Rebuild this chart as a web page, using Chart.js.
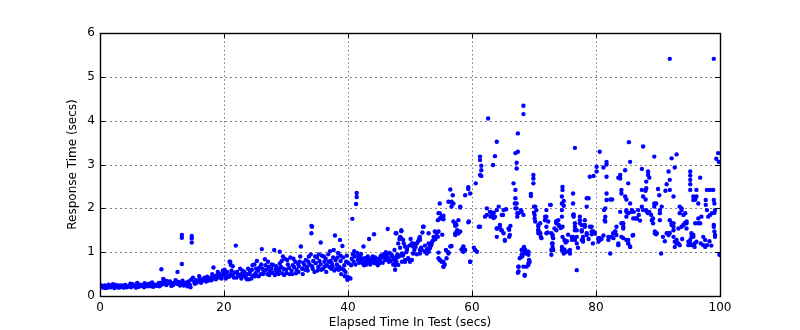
<!DOCTYPE html>
<html>
<head>
<meta charset="utf-8">
<script src="https://cdn.jsdelivr.net/npm/chart.js@4/dist/chart.umd.min.js"></script>
<style>
  html, body { margin: 0; padding: 0; background: #fff; overflow: hidden; }
  #c { display: block; }
</style>
</head>
<body>
<canvas id="c" width="800" height="330" style="width:800px;height:330px"></canvas>
<script>
// ---- data (elapsed seconds, response seconds) ----
const pts0to10 = [
  [0.2,0.22],[0.5,0.19],[0.8,0.24],[0.9,0.18],[1.1,0.21],[1.4,0.26],[1.7,0.2],[2.0,0.23],[2.1,0.27],[2.3,0.18],
  [2.6,0.21],[2.9,0.24],[3.2,0.2],[3.3,0.24],[3.5,0.22],[3.8,0.19],[4.1,0.25],[4.4,0.21],[4.7,0.23],[4.9,0.28],
  [5.0,0.2],[5.3,0.27],[5.6,0.22],[5.9,0.24],[6.0,0.3],[6.2,0.21],[6.5,0.26],[6.8,0.23],[7.1,0.2],[7.2,0.29],
  [7.4,0.25],[7.7,0.22],[8.0,0.28],[8.3,0.24],[8.4,0.31],[8.6,0.21],[8.9,0.26],[9.2,0.23],[9.5,0.3],[9.6,0.22],
  [9.8,0.25],[9.9,0.61]
];
const pts10to20 = [
  [10.1,0.27],[10.2,0.39],[10.4,0.31],[10.6,0.35],[10.7,0.25],[11.0,0.29],[11.3,0.33],[11.5,0.23],[11.6,0.27],[11.9,0.3],
  [12.2,0.36],[12.4,0.28],[12.5,0.55],[12.7,0.32],[12.9,0.24],[13.0,0.29],[13.2,1.39],[13.2,1.33],[13.2,0.73],[13.3,0.35],
  [13.6,0.3],[13.9,0.27],[14.0,0.31],[14.1,0.22],[14.3,0.33],[14.5,0.25],[14.7,0.37],[14.8,1.37],[14.8,1.32],[14.8,1.22],
  [15.0,0.42],[15.2,0.32],[15.3,0.28],[15.5,0.36],[15.8,0.34],[16.0,0.45],[16.1,0.38],[16.4,0.35],[16.7,0.4],[17.0,0.37],
  [17.1,0.33],[17.3,0.44],[17.6,0.39],[17.9,0.42],[18.0,0.36],[18.2,0.46],[18.3,0.65],[18.5,0.41],[18.8,0.47],[19.0,0.55],
  [19.1,0.44],[19.4,0.5],[19.6,0.4],[19.7,0.46],[20.0,0.52]
];
const pts0to17extra = [
  [0.1,0.25],[0.6,0.23],[1.2,0.19],[1.9,0.24],[2.5,0.25],[3.0,0.19],[3.7,0.24],[4.3,0.2],[5.2,0.24],[5.8,0.19],
  [6.4,0.22],[7.0,0.24],[7.6,0.27],[8.2,0.22],[8.8,0.24],[9.4,0.27],[10.0,0.31],[10.9,0.33],[11.8,0.25],[12.1,0.3],
  [12.8,0.27],[13.5,0.24],[14.2,0.28],[14.6,0.2],[15.6,0.3],[16.6,0.36]
];
const pts20to30 = [
  [20.2,0.48],[20.3,0.4],[20.5,0.55],[20.8,0.44],[21.0,0.78],[21.1,0.5],[21.2,0.58],[21.4,0.46],[21.4,0.68],[21.7,0.53],
  [21.9,1.15],[22.0,0.42],[22.3,0.49],[22.6,0.45],[22.6,0.62],[22.9,0.51],[23.0,0.58],[23.2,0.47],[23.5,0.43],[23.8,0.5],
  [23.9,0.62],[24.0,0.38],[24.2,0.56],[24.4,0.4],[24.5,0.6],[24.7,0.47],[24.9,0.72],[25.0,0.45],[25.1,0.52],[25.3,0.8],
  [25.5,0.58],[25.7,0.65],[25.9,0.5],[26.0,0.72],[26.1,1.07],[26.2,0.62],[26.4,0.55],[26.6,0.84],[26.8,0.6],[27.0,0.5],
  [27.1,0.78],[27.2,0.66],[27.4,0.57],[27.6,0.62],[27.8,0.53],[28.0,0.7],[28.1,1.05],[28.2,0.48],[28.3,0.6],[28.5,0.55],
  [28.7,0.63],[28.9,0.58],[29.0,0.74],[29.0,1.01],[29.2,0.66],[29.4,0.52],[29.5,0.9],[29.6,0.62],[29.8,0.85]
];
const pts30to40 = [
  [30.0,0.6],[30.1,0.52],[30.3,0.72],[30.5,0.64],[30.7,0.88],[30.9,0.58],[31.0,0.5],[31.1,0.7],[31.3,0.66],[31.5,0.78],
  [31.7,0.6],[31.9,0.74],[32.0,0.55],[32.1,0.68],[32.3,0.9],[32.4,1.13],[32.6,0.62],[32.8,0.76],[33.0,0.7],[33.2,0.82],
  [33.4,0.65],[33.5,0.58],[33.6,0.78],[33.8,0.72],[34.0,0.95],[34.1,1.6],[34.2,1.58],[34.1,1.43],[34.2,0.68],[34.4,0.8],
  [34.6,0.55],[34.8,0.75],[35.0,0.88],[35.1,0.58],[35.2,0.66],[35.4,0.8],[35.6,0.72],[35.6,1.22],[35.8,0.92],[36.0,0.62],
  [36.2,0.78],[36.4,0.85],[36.5,0.55],[36.6,0.7],[36.8,0.95],[37.0,0.66],[37.2,0.8],[37.3,0.62],[37.4,0.75],[37.6,0.88],
  [37.8,0.58],[37.9,1.38],[38.0,0.82],[38.2,0.72],[38.4,0.98],[38.5,0.6],[38.6,0.66],[38.7,1.28],[38.8,0.8],[38.9,0.5],
  [39.0,0.62],[39.1,1.14],[39.2,0.88],[39.4,0.7],[39.5,0.45],[39.6,0.55],[39.8,0.92],[39.9,0.44],[39.9,0.37],[40.0,0.4]
];
const pts40to48 = [
  [40.2,0.42],[40.4,0.4],[40.6,0.85],[40.7,1.76],[40.8,0.95],[40.9,0.78],[41.0,1.02],[41.1,0.9],[41.3,2.1],[41.4,2.35],
  [41.4,2.26],[41.5,0.98],[41.6,0.82],[41.8,0.76],[42.0,0.88],[42.1,0.96],[42.2,0.8],[42.4,0.74],[42.5,1.13],[42.7,0.86],
  [42.9,0.79],[43.0,0.72],[43.1,0.83],[43.3,0.76],[43.4,1.3],[43.5,0.8],[43.7,0.85],[43.9,0.78],[44.0,0.9],[44.1,0.82],
  [44.2,1.41],[44.3,0.75],[44.5,0.8],[44.7,0.84],[44.9,0.78],[45.0,0.74],[45.1,0.86],[45.3,0.92],[45.5,0.88],[45.7,0.95],
  [45.9,0.9],[46.0,0.82],[46.1,1.0],[46.3,0.94],[46.4,1.53],[46.5,0.86],[46.7,0.98],[46.9,0.8],[47.1,0.9],[47.3,0.72],
  [47.5,1.05],[47.6,0.8],[47.6,0.7],[47.6,0.6],[47.7,1.43],[47.8,0.78],[48.0,0.95]
];
const pts16to48extra = [
  [16.3,0.3],[16.9,0.42],[17.5,0.35],[18.1,0.5],[18.7,0.38],[19.3,0.42],[19.8,0.58],[20.1,0.6],[20.6,0.45],[20.9,0.78],
  [21.1,0.71],[21.6,0.42],[22.1,0.55],[22.8,0.4],[23.3,0.55],[23.7,0.38],[24.1,0.5],[24.6,0.7],[25.2,0.62],[25.6,0.45],
  [26.3,0.5],[26.7,0.7],[27.3,0.48],[27.7,0.72],[28.4,0.68],[28.8,0.5],[29.3,0.8],[29.7,0.48],[30.2,0.82],[30.6,0.5],
  [31.2,0.85],[31.6,0.52],[32.2,0.78],[32.7,0.5],[33.1,0.6],[33.7,0.9],[34.3,0.62],[34.7,0.9],[35.3,0.95],[35.7,0.6],
  [36.1,0.9],[36.3,0.68],[36.9,0.78],[37.1,1.02],[37.5,0.68],[37.7,1.05],[38.1,0.62],[38.3,0.88],[38.8,0.92],[39.3,0.6],
  [39.7,0.78],[40.1,0.75],[40.5,0.7],[41.2,0.72],[41.7,0.9],[42.3,0.85],[42.6,0.7],[43.2,0.9],[43.6,0.72],[44.4,0.88],
  [44.8,0.7],[45.2,0.8],[45.6,0.76],[46.2,0.84],[46.6,0.78],[47.0,0.95],[47.4,0.85],[47.9,0.88]
];
const pts48to56 = [
  [48.2,0.9],[48.3,1.3],[48.4,1.1],[48.6,1.5],[48.6,1.32],[48.6,1.48],[48.7,0.97],[48.8,0.92],[49.0,1.2],[49.2,0.78],
  [49.4,1.0],[49.5,1.09],[49.7,0.85],[49.9,1.15],[50.1,1.3],[50.3,0.82],[50.5,1.2],[50.5,0.97],[50.7,1.05],[50.9,1.12],
  [51.1,0.95],[51.3,1.25],[51.5,1.32],[51.6,1.05],[51.6,0.97],[51.8,1.1],[52.0,1.45],[52.2,1.58],[52.4,1.15],[52.7,1.05],
  [52.7,0.97],[52.9,1.08],[53.0,1.2],[53.2,1.12],[53.4,1.15],[53.6,1.25],[53.8,1.35],[54.0,1.47],[54.1,1.3],[54.3,1.45],
  [54.5,1.35],[54.6,0.99],[54.8,2.11],[54.8,1.89],[54.8,0.82],[55.0,1.77],[55.2,1.4],[55.4,1.83],[55.4,1.75],[55.4,0.78],
  [55.4,0.67],[55.6,0.72],[55.8,1.05]
];
const pts56to62 = [
  [56.2,2.15],[56.2,1.0],[56.5,2.43],[56.7,2.13],[56.7,2.04],[56.7,1.14],[56.9,2.3],[57.3,1.65],[57.3,1.6],[57.3,1.39],
  [57.6,1.5],[57.8,1.73],[57.8,1.43],[58.1,2.02],[58.3,1.06],[58.6,1.12],[58.6,1.01],[58.9,2.3],[59.4,2.48],[59.4,2.44],
  [59.4,1.68],[59.7,2.34],[59.7,0.78],[60.3,1.1],[60.5,1.05],[60.6,2.57],[61.1,1.58],[61.3,3.18],[61.3,3.1],[61.3,2.76],
  [61.5,2.97],[61.5,2.87],[61.5,2.74]
];
const pts62to69 = [
  [62.4,2.0],[62.6,4.05],[63.0,1.92],[63.0,1.81],[63.2,1.86],[63.4,2.99],[63.5,1.9],[63.5,1.78],[63.7,3.19],[64.0,3.52],
  [64.0,1.96],[64.0,1.54],[64.0,1.35],[64.5,1.58],[64.7,1.5],[65.0,1.85],[65.3,1.26],[65.5,1.98],[66.0,1.51],[66.0,1.35],
  [66.2,1.6],[66.7,2.57],[67.0,2.42],[67.0,2.23],[67.0,2.0],[67.0,3.26],[67.2,2.11],[67.2,3.04],[67.2,2.91],[67.3,1.89],
  [67.3,1.81],[67.4,3.29],[67.4,3.71],[67.4,0.53],[67.5,0.67],[68.1,0.9],[68.3,4.34],[68.3,4.15],[68.4,1.12],[68.4,0.97],
  [68.5,0.46],[68.6,1.05],[68.8,0.67],[69.1,1.01],[69.1,0.75],[69.2,0.82]
];
const pts69to74 = [
  [69.5,2.33],[69.5,2.28],[69.9,2.76],[69.9,2.68],[69.9,2.57],[70.0,2.04],[70.0,1.9],[70.1,1.85],[70.1,1.77],[70.2,1.7],
  [70.7,1.58],[70.7,1.5],[70.7,1.43],[71.0,1.66],[71.0,1.43],[71.1,1.35],[71.8,1.81],[71.8,1.73],[72.0,1.96],[72.0,1.58],
  [72.0,1.43],[72.2,1.45],[72.7,2.08],[72.8,1.05],[72.8,0.94],[73.0,1.4],[73.0,1.35],[73.0,1.2],[73.0,1.12],[73.6,1.7],
  [73.6,1.66],[73.6,1.5],[73.9,1.73],[74.0,1.6]
];
const pts48to74extra = [
  [47.8,1.43],[48.1,1.2],[48.4,1.35],[47.8,0.9],[48.7,0.78],[48.1,0.71],[48.9,1.28],[49.2,1.13],[49.5,1.05],[49.7,0.86],
  [50.0,0.78],[50.3,1.2],[50.5,1.13],[48.9,0.94],[49.2,0.82],[51.1,1.2],[51.6,1.35],[51.6,1.28],[51.9,1.05],[52.1,1.58],
  [52.4,1.01],[52.7,1.05],[53.0,1.43],[53.2,1.09],[53.5,1.2],[53.8,1.28],[54.0,1.35],[54.3,1.43],[54.6,1.47],[53.0,1.01],
  [54.8,0.82],[55.1,0.78],[55.4,0.67],[55.9,0.86],[56.2,0.97],[54.6,0.86],[56.7,2.15],[57.0,2.11],[58.1,2.04],[54.6,1.89],
  [54.8,1.77],[55.1,1.81],[54.5,1.73],[57.0,1.7],[57.3,1.66],[57.5,1.62],[57.8,1.43],[58.1,1.47],[57.3,1.43],[59.5,1.7],
  [56.5,1.13],[58.6,1.13],[58.9,1.05],[59.7,0.78],[60.5,1.05],[60.8,1.01],[61.3,1.58],[62.1,1.81],[62.4,1.85],[62.9,1.92],
  [63.2,1.85],[63.4,1.89],[63.7,1.81],[64.0,1.54],[64.3,2.04],[64.8,1.85],[65.1,1.96],[64.5,1.62],[64.8,1.5],[65.1,1.43],
  [65.3,1.28],[65.9,1.54],[66.1,1.39],[66.9,2.11],[67.2,2.0],[67.5,1.89],[68.0,1.92],[68.3,1.85],[67.9,1.96],[68.0,1.05],
  [68.3,1.09],[68.5,1.01],[68.0,0.94],[67.7,0.86],[68.8,0.97],[69.1,0.94],[69.3,0.78],[69.1,0.71],[68.3,0.67],[68.5,0.48],
  [67.5,0.67],[67.5,0.56],[70.2,2.04],[70.4,1.96],[70.7,1.5],[71.0,1.43],[71.2,1.32],[70.7,1.62],[71.8,1.73],[72.0,1.81],
  [72.3,1.7],[72.6,2.08],[72.8,1.43],[73.1,1.32],[72.9,1.2],[73.1,1.05],[73.3,1.54]
];
const pts74to87 = [
  [74.5,2.27],[74.5,2.11],[74.6,2.49],[74.6,2.42],[74.8,2.17],[74.8,2.06],[74.5,1.96],[74.5,1.81],[74.6,1.58],[74.6,1.35],
  [74.5,1.12],[74.5,1.05],[74.8,0.97],[75.1,1.0],[75.3,1.25],[75.5,1.4],[75.8,1.05],[75.8,0.97],[76.1,1.35],[76.1,1.28],
  [76.3,2.34],[76.3,2.11],[76.4,1.86],[76.4,1.81],[76.6,1.66],[76.6,1.5],[76.6,3.38],[76.9,1.35],[76.9,1.2],[76.9,0.59],
  [77.1,1.1],[77.4,1.81],[77.4,1.73],[77.7,1.62],[77.7,1.5],[77.7,1.28],[77.9,1.35],[77.9,1.24],[78.2,1.58],[78.2,1.73],
  [78.5,2.23],[78.5,2.04],[78.5,1.39],[78.8,2.23],[78.8,1.3],[79.0,1.58],[79.0,2.72],[79.3,1.47],[79.3,1.41],[79.5,1.2],
  [79.6,2.74],[79.8,1.43],[80.1,2.95],[80.1,2.84],[80.4,1.32],[80.4,1.24],[80.6,1.32],[80.6,3.29],[80.9,1.3],[81.2,1.38],
  [81.2,2.93],[81.5,1.81],[81.5,1.7],[81.5,2.0],[81.7,2.34],[81.7,2.19],[81.7,3.06],[81.7,3.0],[81.7,2.72],[82.0,1.35],
  [82.0,1.28],[82.3,0.97],[82.3,2.2],[82.6,2.2],[82.8,1.43],[82.8,1.32],[83.1,1.47],[83.3,1.58],[83.6,1.16],[83.6,2.7],
  [83.9,1.92],[83.9,2.76],[83.9,2.68],[84.1,2.42],[84.1,2.34],[84.4,1.66],[84.4,1.54],[84.7,2.27],[84.7,2.87],[84.9,2.2],
  [84.9,1.96],[84.9,1.81],[85.2,1.28],[85.2,1.2],[85.2,2.57],[85.3,3.51],[85.5,1.12],[85.5,3.06],[85.8,1.96],[85.9,1.38],
  [86.1,1.92],[86.3,1.77],[86.6,1.77],[86.8,1.96],[86.9,1.85]
];
const pts87to100 = [
  [87.1,1.72],[87.4,2.04],[87.4,2.9],[87.4,2.42],[87.6,1.96],[87.6,3.41],[87.6,2.27],[88.0,2.4],[88.0,2.2],[88.1,1.96],
  [88.1,2.61],[88.1,2.46],[88.4,1.89],[88.4,2.84],[88.4,2.76],[88.6,1.92],[88.6,2.7],[88.9,1.85],[89.2,1.77],[89.2,1.66],
  [89.4,2.11],[89.4,2.04],[89.4,3.18],[89.5,1.43],[89.7,1.41],[89.7,2.11],[90.0,2.44],[90.2,2.3],[90.3,1.96],[90.3,1.73],
  [90.5,0.97],[90.8,1.35],[91.1,1.25],[91.2,2.4],[91.4,2.55],[91.7,1.43],[91.7,2.84],[91.9,1.44],[91.9,1.73],[91.9,2.65],
  [91.9,2.42],[91.9,5.41],[92.2,1.66],[92.2,3.14],[92.5,1.58],[92.5,1.5],[92.5,1.35],[92.5,2.27],[92.7,1.24],[92.7,1.12],
  [92.7,2.93],[93.0,1.2],[93.0,3.23],[93.3,1.54],[93.5,2.04],[93.5,1.89],[93.8,2.0],[93.8,1.96],[93.9,1.3],[94.1,1.85],
  [94.4,1.89],[94.6,1.66],[94.6,1.54],[94.9,1.24],[94.9,1.16],[95.2,1.28],[95.2,2.84],[95.2,2.75],[95.2,2.65],[95.2,2.55],
  [95.2,2.42],[95.4,1.43],[95.4,1.35],[95.7,2.27],[95.7,2.19],[95.7,1.35],[95.9,1.2],[95.9,1.12],[96.0,2.2],[96.2,1.24],
  [96.2,2.42],[96.2,2.27],[96.5,1.77],[96.5,1.66],[96.8,1.66],[96.8,2.7],[96.9,1.2],[97.0,1.81],[97.3,1.35],[97.3,1.16],
  [97.6,1.12],[97.7,2.19],[97.7,2.08],[97.9,1.96],[97.9,2.42],[98.1,1.81],[98.3,1.25],[98.4,2.42],[98.6,1.15],[98.9,2.42],
  [99.0,2.19],[99.0,1.58],[99.0,5.41],[99.1,1.9],[99.1,1.47],[99.1,2.11],[99.2,1.96],[99.2,1.35],[99.4,3.13],[99.7,3.26],
  [99.8,3.06],[99.9,0.94]
];
const pts74to100extra = [
  [73.6,1.7],[74.0,1.62],[74.3,1.55],[74.9,1.28],[75.1,1.22],[74.9,1.06],[75.6,1.02],[76.3,1.85],[76.6,1.58],[76.9,1.5],
  [77.4,1.66],[77.7,1.47],[78.2,1.62],[78.5,1.43],[77.9,1.28],[76.6,1.28],[76.3,1.35],[79.3,1.58],[79.6,1.47],[79.8,1.43],
  [80.4,1.32],[80.6,1.28],[81.4,1.73],[81.3,1.96],[82.8,1.43],[83.1,1.47],[83.3,1.39],[82.5,1.35],[83.6,1.2],[84.1,1.35],
  [84.4,1.32],[84.9,1.28],[85.2,1.2],[85.5,1.13],[84.1,1.66],[84.4,1.58],[84.9,1.92],[85.2,1.89],[85.7,1.92],[86.0,1.77],
  [86.5,1.77],[85.5,2.11],[86.0,1.39],[88.2,1.92],[89.0,1.73],[89.5,1.47],[89.8,1.43],[90.3,1.89],[90.6,2.04],[91.4,1.43],
  [91.7,1.39],[92.2,1.62],[92.5,1.66],[93.0,1.28],[93.3,1.2],[93.5,1.16],[93.8,1.58],[94.1,1.62],[94.3,1.66],[94.6,1.7],
  [95.2,1.2],[95.4,1.16],[95.7,1.39],[96.0,1.66],[96.5,2.11],[97.6,1.28],[97.9,1.16],[98.4,1.85],[98.7,1.89],[99.0,1.62],
  [99.2,1.39]
];
const xTickValues = [0, 20, 40, 60, 80, 100];
const yTickValues = [0, 1, 2, 3, 4, 5, 6];
const xTitle = 'Elapsed Time In Test (secs)';
const yTitle = 'Response Time (secs)';

const allPoints = [].concat(pts0to10, pts10to20, pts0to17extra, pts20to30, pts30to40, pts40to48,
  pts16to48extra, pts48to56, pts56to62, pts62to69, pts69to74, pts48to74extra,
  pts74to87, pts87to100, pts74to100extra)
  .map(p => ({ x: p[0], y: p[1] }));

const FONT = { family: "'DejaVu Sans', sans-serif", size: 12 };

const mplFrame = {
  id: 'mplFrame',
  beforeDatasetsDraw(chart) {
    const { ctx, chartArea: a, scales: { x, y } } = chart;
    ctx.save();
    ctx.strokeStyle = 'rgba(0,0,0,0.5)';
    ctx.lineWidth = 1;
    ctx.setLineDash([2, 3]);
    yTickValues.forEach(v => {
      if (v === 0 || v === 6) return;
      const py = Math.round(y.getPixelForValue(v)) + 0.5;
      ctx.beginPath(); ctx.moveTo(a.left, py); ctx.lineTo(a.right, py); ctx.stroke();
    });
    ctx.setLineDash([1.6, 2.6]);
    xTickValues.forEach(v => {
      if (v === 0 || v === 100) return;
      const px = Math.round(x.getPixelForValue(v)) + 0.5;
      ctx.beginPath(); ctx.moveTo(px, a.top); ctx.lineTo(px, a.bottom); ctx.stroke();
    });
    ctx.restore();
  },
  afterDatasetsDraw(chart) {
    const { ctx, chartArea: a, scales: { x, y } } = chart;
    ctx.save();
    ctx.setLineDash([]);
    ctx.strokeStyle = '#000';
    ctx.lineWidth = 1;
    xTickValues.forEach(v => {
      const px = Math.round(x.getPixelForValue(v)) + 0.5;
      ctx.beginPath();
      ctx.moveTo(px, a.bottom); ctx.lineTo(px, a.bottom - 5);
      ctx.moveTo(px, a.top); ctx.lineTo(px, a.top + 5);
      ctx.stroke();
    });
    yTickValues.forEach(v => {
      const py = Math.round(y.getPixelForValue(v)) + 0.5;
      ctx.beginPath();
      ctx.moveTo(a.left, py); ctx.lineTo(a.left + 5, py);
      ctx.moveTo(a.right, py); ctx.lineTo(a.right - 5, py);
      ctx.stroke();
    });
    ctx.lineWidth = 1.4;
    ctx.strokeRect(Math.round(a.left) + 0.5, Math.round(a.top) + 0.5,
      Math.round(a.right - a.left), Math.round(a.bottom - a.top));
    ctx.restore();
  }
};

new Chart(document.getElementById('c'), {
  type: 'scatter',
  data: {
    datasets: [{
      data: allPoints,
      backgroundColor: '#0000ff',
      borderColor: '#0000ff',
      borderWidth: 0,
      pointRadius: 2.2,
      pointHoverRadius: 2.2
    }]
  },
  options: {
    responsive: false,
    animation: false,
    devicePixelRatio: 1,
    layout: { padding: { left: 0, right: 80, top: 33, bottom: 0 } },
    plugins: { legend: { display: false }, tooltip: { enabled: false } },
    scales: {
      x: {
        type: 'linear',
        min: 0, max: 100,
        afterBuildTicks: s => { s.ticks = xTickValues.map(v => ({ value: v })); },
        afterFit: s => { s.height = 34; },
        grid: { display: false, drawTicks: false },
        border: { display: false },
        ticks: { color: '#000', font: FONT, padding: 5, maxRotation: 0, autoSkip: false },
        title: { display: true, text: xTitle, color: '#000', font: FONT, padding: { top: 0, bottom: 0 } }
      },
      y: {
        type: 'linear',
        min: 0, max: 6,
        afterBuildTicks: s => { s.ticks = yTickValues.map(v => ({ value: v })); },
        afterFit: s => { s.width = 100; },
        grid: { display: false, drawTicks: false },
        border: { display: false },
        ticks: { color: '#000', font: FONT, padding: 5, autoSkip: false },
        title: { display: true, text: yTitle, color: '#000', font: FONT, padding: { top: 66, bottom: 0 } }
      }
    }
  },
  plugins: [mplFrame]
});
</script>
</body>
</html>
